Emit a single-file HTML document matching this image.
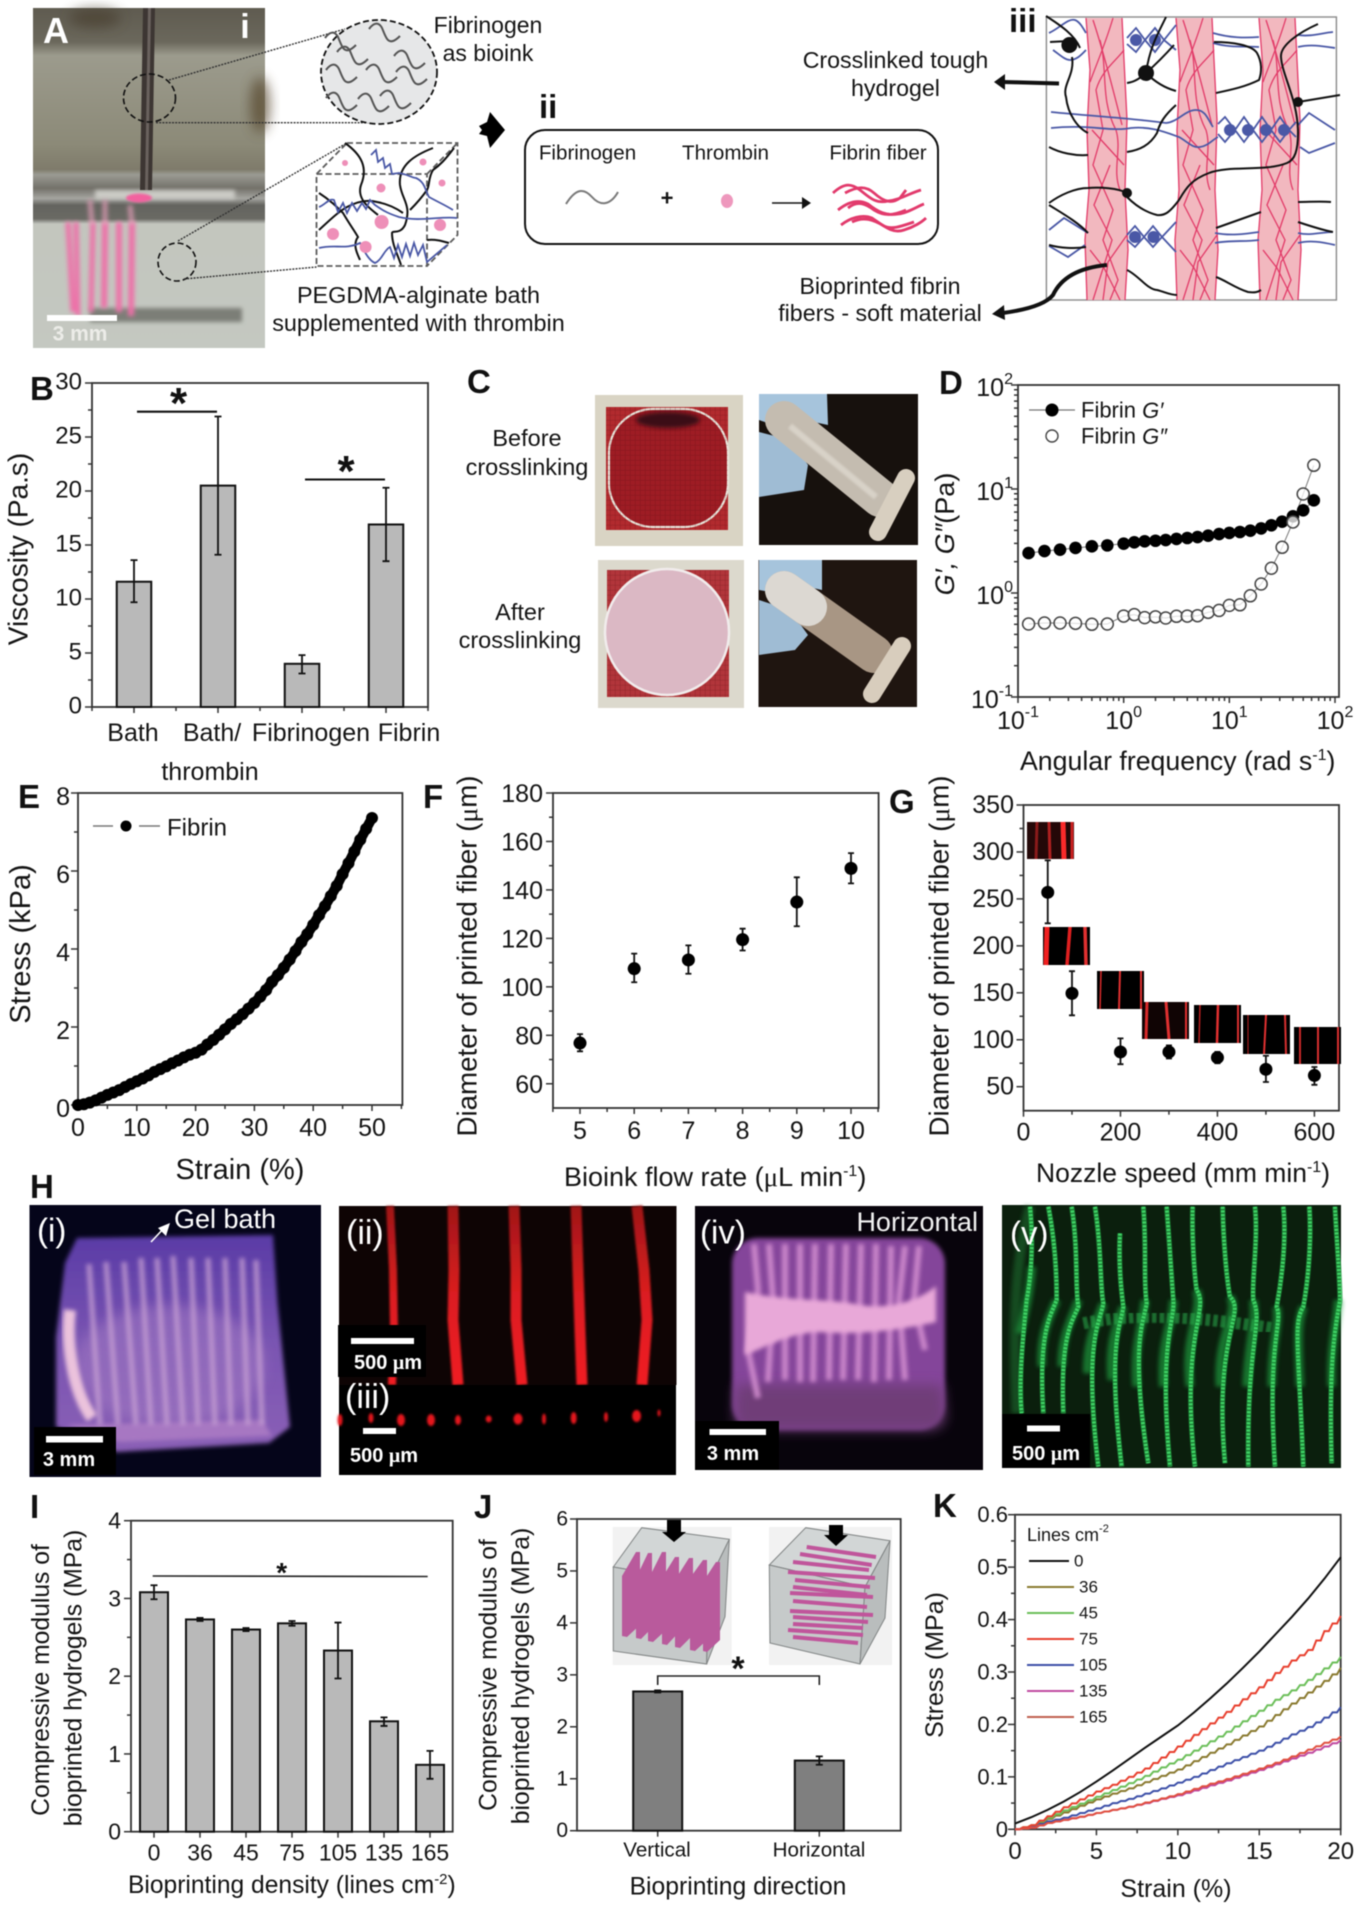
<!DOCTYPE html>
<html lang="en">
<head>
<meta charset="utf-8">
<title>Bioprinted fibrin fibers in tough hydrogel figure</title>
<style>
html,body{margin:0;padding:0;background:#fff;width:1362px;height:1915px;overflow:hidden}
svg{display:block;filter:blur(0.5px)}
text{font-family:"Liberation Sans",sans-serif;fill:#141414}
.panel{font-weight:700;font-size:33px;fill:#111}
.c{text-anchor:middle;dominant-baseline:central}
.frame{fill:none;stroke:#333;stroke-width:1.8}
.tick{stroke:#333;stroke-width:1.5}
.mu{font-family:"Liberation Serif",serif}
.dot{fill:none;stroke:#333;stroke-width:1.4;stroke-dasharray:2 1.2}
.blk{fill:none;stroke:#111;stroke-width:2}
.blu{fill:none;stroke:#4a58a6;stroke-width:1.8}
.fib{fill:none;stroke:#e23a68;stroke-width:1.3}
</style>
</head>
<body>
<svg id="fig" width="1362" height="1915" viewBox="0 0 1362 1915">
<defs>
<filter id="b1" x="-20%" y="-20%" width="140%" height="140%"><feGaussianBlur stdDeviation="1"/></filter>
<filter id="b2" x="-30%" y="-30%" width="160%" height="160%"><feGaussianBlur stdDeviation="2.2"/></filter>
<filter id="b5" x="-50%" y="-50%" width="200%" height="200%"><feGaussianBlur stdDeviation="6"/></filter>
<linearGradient id="gA" x1="0" y1="0" x2="0" y2="1">
<stop offset="0" stop-color="#5f5b50"/><stop offset=".1" stop-color="#6b685c"/><stop offset=".14" stop-color="#9c9b8d"/>
<stop offset=".4" stop-color="#8c8a78"/><stop offset=".475" stop-color="#7f7b6b"/><stop offset=".49" stop-color="#9b9b93"/>
<stop offset=".53" stop-color="#73716a"/><stop offset=".56" stop-color="#a5a5a0"/><stop offset=".58" stop-color="#64645f"/>
<stop offset=".62" stop-color="#6a6a64"/><stop offset=".635" stop-color="#c3c6be"/><stop offset="1" stop-color="#c4c8c1"/>
</linearGradient>
<linearGradient id="gHi" x1="0" y1="0" x2="0" y2="1"><stop offset="0" stop-color="#5a3ba6"/><stop offset=".5" stop-color="#7a55b2"/><stop offset="1" stop-color="#8a5fb6"/></linearGradient>
<linearGradient id="gRed" x1="0" y1="0" x2="0" y2="1"><stop offset="0" stop-color="#a01818"/><stop offset=".5" stop-color="#dc1c20"/><stop offset="1" stop-color="#f01f24"/></linearGradient>
<pattern id="grid" width="5" height="5" patternUnits="userSpaceOnUse"><path d="M0,0H5M0,0V5" stroke="#5a0c12" stroke-width=".8" opacity=".45"/></pattern>
<path id="wave" d="M0,4 C5,-3 10,-3 13,3 C16,10 18,18 24,16 C27,15 29,13 31,11" fill="none" stroke="#555" stroke-width="2"/>
<g id="band">
<path d="M1086,18 L1090,70 L1087,130 L1089,190 L1085,240 L1087,300 L1125,300 L1128,250 L1125,190 L1127,120 L1124,60 L1122,18 Z" fill="#f2b8bf"/>
<path class="fib" d="M1086,18 L1090,70 L1087,130 L1089,190 L1085,240 L1087,300"/>
<path class="fib" d="M1122,18 L1124,60 L1127,120 L1125,190 L1128,250 L1125,300"/>
<path class="fib" d="M1093,20 C1103,50 1112,85 1122,125"/>
<path class="fib" d="M1113,18 C1105,45 1098,60 1090,82"/>
<path class="fib" d="M1100,40 C1108,70 1100,100 1116,130 C1122,150 1112,170 1120,190"/>
<path class="fib" d="M1124,50 C1115,62 1102,70 1096,90 L1103,130 L1093,165 L1113,210 L1103,240 L1118,280 L1110,300"/>
<path class="fib" d="M1110,165 L1094,205 L1112,240 L1093,300"/>
<path class="fib" d="M1092,130 L1124,165"/>
<path class="fib" d="M1090,250 L1104,268 L1120,300"/>
<path class="fib" d="M1127,235 L1108,262 L1103,300"/>
</g>
<g id="strands" fill="none">
<path d="M90,20 C100,120 95,220 80,300 C70,400 55,540 65,640"/><path d="M145,20 C170,150 170,260 170,300 C150,350 115,400 130,640"/>
<path d="M215,20 C235,150 225,260 235,320 C220,360 180,400 190,640"/><path d="M285,20 C305,150 300,260 310,310 C300,370 250,420 295,800"/>
<path d="M360,100 C355,200 365,280 370,320 C365,370 320,420 365,800"/><path d="M430,20 C440,150 430,240 440,310 C430,370 390,430 445,790"/>
<path d="M500,20 C510,150 515,240 520,300 C525,370 475,420 510,800"/><path d="M578,20 C575,120 585,240 590,270 C630,330 540,400 585,800"/>
<path d="M668,20 C670,120 680,240 690,290 C740,340 640,400 675,790"/><path d="M765,20 C775,120 755,240 760,300 C790,370 740,420 745,800"/>
<path d="M850,20 C860,120 845,240 830,320 C850,370 800,420 825,800"/><path d="M928,20 C935,120 925,240 910,320 C880,370 895,430 910,800"/>
<path d="M1005,20 C1010,120 1020,240 1020,300 C1010,370 985,450 995,790"/>
</g>
</defs>
<rect x="0" y="0" width="1362" height="1915" fill="#fff"/>

<!-- PANEL A -->
<g>
<g>
<rect x="33" y="8" width="232" height="340" fill="url(#gA)"/>
<ellipse cx="95" cy="18" rx="26" ry="10" fill="#453a2c" filter="url(#b5)" opacity=".6"/>
<ellipse cx="260" cy="105" rx="10" ry="28" fill="#54442c" filter="url(#b5)" opacity=".7"/>
<rect x="95" y="190" width="140" height="9" fill="#d6d6d0" filter="url(#b2)" opacity=".85"/>
<rect x="90" y="308" width="152" height="14" fill="#7c7e77" filter="url(#b2)"/>
<path d="M143,8 H155 L152,190 H140 Z" fill="#3d3633"/>
<path d="M148,8 H151 L148,190 H145 Z" fill="#6a625e"/>
<g stroke="#ee6fa8" fill="none" filter="url(#b2)">
<path d="M68,222 L73,312" stroke-width="5"/><path d="M76,222 L78,316" stroke-width="5"/><path d="M93,222 L91,312" stroke-width="5"/>
<path d="M105,222 L104,308" stroke-width="6"/><path d="M119,222 L119,312" stroke-width="6"/><path d="M132,222 L131,316" stroke-width="6"/>
</g>
<path d="M90,200 L92,225 M105,200 L105,225 M130,205 L132,225" stroke="#e8a0bc" stroke-width="5" filter="url(#b2)" opacity=".7"/>
<ellipse cx="139" cy="198" rx="13" ry="4.5" fill="#f2629f" filter="url(#b1)"/>
<rect x="47" y="315" width="70" height="6" fill="#fff"/>
<text x="80" y="334" class="c" font-size="21" font-weight="700" style="fill:#ecece8">3 mm</text>
</g>
<text x="43" y="43" font-size="36" font-weight="700" style="fill:#fff">A</text>
<text x="245" y="38" text-anchor="middle" font-size="34" font-weight="700" style="fill:#fff">i</text>
<ellipse cx="149.5" cy="98" rx="26" ry="24" fill="none" stroke="#111" stroke-width="1.6" stroke-dasharray="6 3"/>
<ellipse cx="177" cy="262" rx="19" ry="19" fill="none" stroke="#111" stroke-width="1.6" stroke-dasharray="6 3"/>
<g>
<line class="dot" x1="169" y1="80" x2="345" y2="29"/><line class="dot" x1="156" y1="122.7" x2="373" y2="122.7"/>
<line class="dot" x1="178" y1="241" x2="347" y2="143"/><line class="dot" x1="184" y1="279" x2="316.5" y2="267"/>
</g>
<g>
<ellipse cx="379" cy="72" rx="58" ry="52" fill="#e6e7e8" stroke="#111" stroke-width="1.8" stroke-dasharray="6 3"/>
<use href="#wave" x="325" y="34"/><use href="#wave" x="369" y="25"/><use href="#wave" x="337" y="48"/><use href="#wave" x="394" y="52"/>
<use href="#wave" x="326" y="66"/><use href="#wave" x="366" y="66"/><use href="#wave" x="396" y="68"/><use href="#wave" x="326" y="94"/>
<use href="#wave" x="358" y="95"/><use href="#wave" x="380" y="92"/>
</g>
<text x="488" y="25" class="c" font-size="23">Fibrinogen</text>
<text x="488" y="53" class="c" font-size="23">as bioink</text>
<g>
<g fill="none" stroke="#5c5c5c" stroke-width="1.8" stroke-dasharray="6 3">
<rect x="316.5" y="174" width="110.5" height="92"/>
<path d="M347,143 H457.5 V235 L427,266"/><path d="M316.5,174 L347,143"/><path d="M427,174 L457.5,143"/>
</g>
<g class="cube-black">
<path class="blk" d="M345,143 C362,155 368,168 361,185 C356,200 372,210 378,215"/>
<path class="blk" d="M433,148 C415,155 398,165 400,185 C402,200 412,205 405,225 C400,235 392,230 392,233 C392,245 398,255 401,265"/>
<path class="blk" d="M454,148 C445,160 440,165 433,170 C428,178 430,185 427,190 C420,200 415,205 410,210"/>
<path class="blk" d="M319,193 C330,200 337,207 343,213 C350,225 354,230 358,237 C352,245 358,255 360,260"/>
<path class="blk" d="M319,230 C330,220 338,212 347,207 C360,200 370,200 377,202 C388,204 396,208 403,213"/>
<path class="blk" d="M427,240 C435,239 442,241 449,243"/>
</g>
<g>
<path class="blu" d="M371,155 L376,150 L378,162 L383,158 L385,168 L390,164 L392,174 L399,173 C410,175 412,178 416,178 C425,182 425,190 429,197 C438,202 445,205 453,210"/>
<path class="blu" d="M319,207 C325,205 329,198 334,200 L338,212 L343,203 L347,213 L352,203 L357,211 L362,203 L366,209 L370,200 L375,205 C385,212 390,214 399,217 C420,222 440,216 457,218"/>
<path class="blu" d="M319,248 C335,244 345,250 360,243 C364,250 368,260 375,263 C382,260 384,250 390,247 L394,258 L398,245 L402,257 L406,244 L410,256 L414,243 L418,255 L423,245 L427,262 L447,245"/>
</g>
<g fill="#ee8fb8">
<circle cx="345" cy="163" r="3"/><circle cx="423" cy="162" r="3.5"/><circle cx="442" cy="183" r="3.5"/><circle cx="381" cy="188" r="4.5"/>
<circle cx="381.6" cy="222" r="7"/><circle cx="440" cy="225" r="6"/><circle cx="333" cy="234" r="6"/><circle cx="365.6" cy="247" r="6"/>
</g>
</g>
<text x="418.5" y="295" class="c" font-size="23.4">PEGDMA-alginate bath</text>
<text x="418.5" y="323" class="c" font-size="23.4">supplemented with thrombin</text>
<path d="M490,112 L505,130 L490,148 L487,136 L479,134 L482,130 L479,126 L487,122 Z" fill="#000"/>
<text x="539" y="118" font-size="33" font-weight="700" style="fill:#111">ii</text>
<g>
<rect x="525" y="130" width="413" height="114" rx="20" fill="#fff" stroke="#111" stroke-width="2"/>
<text x="587.5" y="153" class="c" font-size="20.6">Fibrinogen</text>
<text x="725.5" y="153" class="c" font-size="20.6">Thrombin</text>
<text x="878" y="153" class="c" font-size="20.6">Fibrin fiber</text>
<path d="M566,204 C576,188 584,188 592,197 C600,206 610,206 618,192" fill="none" stroke="#7a7a7a" stroke-width="2"/>
<text x="667" y="198" class="c" font-size="22" font-weight="700">+</text>
<ellipse cx="727" cy="201" rx="6" ry="7" fill="#ee98bd"/>
<line x1="772" y1="203" x2="803" y2="203" stroke="#111" stroke-width="1.6"/>
<path d="M802,197 L811,203 L802,209 Z" fill="#111"/>
<g fill="none" stroke="#e23a6c" stroke-width="2.8">
<path d="M833,193 C845,182 852,184 860,190 C870,198 876,204 888,201 C900,200 910,193 921,190"/>
<path d="M845,193 C858,186 866,186 874,193 C884,202 892,204 900,198 L906,190"/>
<path d="M838,210 C848,202 858,199 868,204 C878,212 886,216 898,214 C908,213 918,206 924,204"/>
<path d="M848,208 C858,200 866,204 874,210 C884,216 892,216 906,210"/>
<path d="M841,225 C850,218 862,214 872,218 C884,226 892,234 904,230 C914,227 922,222 926,218"/>
<path d="M852,222 C864,216 874,220 884,226 C892,230 902,226 914,222"/>
</g>
</g>
<text x="1009" y="32" font-size="33" font-weight="700" style="fill:#111">iii</text>
<text x="895.5" y="60" class="c" font-size="23.2">Crosslinked tough</text>
<text x="895.5" y="88" class="c" font-size="23.2">hydrogel</text>
<text x="880" y="286" class="c" font-size="23.2">Bioprinted fibrin</text>
<text x="880" y="313" class="c" font-size="23.2">fibers - soft material</text>
<g>
<rect x="1046.4" y="17" width="290" height="283" fill="#fff" stroke="#8a8a8a" stroke-width="1.4"/>
<use href="#band"/><use href="#band" x="90"/><use href="#band" x="173"/>
<g>
<path class="blu" d="M1051,112 C1090,116 1130,118 1166,123 C1178,122 1185,110 1196,110 C1206,110 1208,120 1213,127"/>
<path class="blu" d="M1051,128 C1090,124 1110,132 1131,128 C1150,126 1165,132 1179,137 C1188,142 1192,148 1200,147 C1208,146 1212,140 1218,137"/>
<path class="blu" d="M1218,124 L1225,117 L1235,130 L1244,117 L1253,130 L1262,117 L1271,130 L1280,117 L1289,130 L1296,122 M1218,134 L1225,142 L1235,130 L1244,142 L1253,130 L1262,142 L1271,130 L1280,142 L1289,130 L1296,137"/>
<path class="blu" d="M1298,125 L1309,113 L1335,130 M1300,147 L1309,153 L1335,143"/>
<path class="blu" d="M1049,33 C1060,28 1068,18 1075,20 C1080,22 1083,28 1086,33 M1053,50 C1060,55 1065,60 1070,60 C1077,60 1082,54 1086,50"/>
<path class="blu" d="M1127,38 L1136,28 L1145,40 L1155,28 L1164,40 L1176,25 M1127,44 L1136,52 L1145,40 L1155,52 L1164,40 L1176,50"/>
<path class="blu" d="M1213,33 C1230,38 1245,38 1259,37 M1213,43 C1230,48 1245,46 1259,47"/>
<path class="blu" d="M1298,35 C1310,37 1322,33 1333,32 M1298,47 C1310,44 1322,46 1335,48"/>
<path class="blu" d="M1127,235 L1135,226 L1144,237 L1153,226 L1162,237 L1176,222 M1127,240 L1135,247 L1144,237 L1153,247 L1162,237 L1176,252"/>
<path class="blu" d="M1049,230 L1064,218 L1088,233 M1049,246 L1068,257 L1085,245"/>
<path class="blu" d="M1215,233 C1230,236 1245,234 1259,232 M1215,243 C1230,240 1245,242 1259,240"/>
<path class="blu" d="M1298,233 C1310,236 1322,232 1333,232 M1298,243 C1310,240 1322,242 1335,245"/>
<g fill="#4a58a6">
<circle cx="1136" cy="40" r="6"/><circle cx="1155" cy="40" r="6"/><circle cx="1230" cy="130" r="6"/><circle cx="1248" cy="130" r="6"/>
<circle cx="1266" cy="130" r="6"/><circle cx="1284" cy="130" r="6"/><circle cx="1135" cy="237" r="6"/><circle cx="1153.5" cy="237" r="6"/>
</g>
</g>
<g>
<path class="blk" d="M1046,16 C1060,25 1075,35 1080,48 M1050,42 L1069,41"/>
<path class="blk" d="M1072,57 C1075,75 1062,85 1066,97 C1068,115 1078,128 1088,133"/>
<path class="blk" d="M1049,147 C1060,153 1075,156 1088,155"/>
<path class="blk" d="M1166,17 C1160,30 1150,45 1146,73 M1174,45 C1165,55 1155,65 1146,73 M1146,73 C1140,78 1135,82 1127,83 M1146,73 C1155,82 1165,88 1176,91"/>
<path class="blk" d="M1176,105 C1165,115 1160,122 1157,133 C1150,145 1140,150 1127,152"/>
<path class="blk" d="M1214,42 C1232,42 1252,45 1257,53 C1262,62 1262,72 1259,80 C1245,87 1230,90 1216,93"/>
<path class="blk" d="M1318,24 C1300,32 1280,45 1281,57 C1282,75 1298,100 1298,133 C1298,150 1295,160 1287,163 C1265,172 1230,165 1209,173 C1190,180 1185,190 1179,200 C1170,212 1165,216 1157,215 C1145,212 1135,205 1127,197"/>
<path class="blk" d="M1298,102 L1340,95"/>
<path class="blk" d="M1049,203 C1060,195 1075,188 1088,188 C1100,187 1118,188 1127,193"/>
<path class="blk" d="M1049,205 C1060,212 1078,222 1088,233"/>
<path class="blk" d="M1049,245 C1060,248 1075,249 1086,247"/>
<path class="blk" d="M1127,270 C1138,275 1148,290 1157,290 C1165,292 1170,295 1177,295"/>
<path class="blk" d="M1216,228 L1261,212 M1216,277 C1225,280 1235,288 1248,292 C1255,293 1258,292 1261,290"/>
<path class="blk" d="M1298,202 C1310,202 1320,201 1331,202 M1298,222 C1310,226 1322,230 1333,232"/>
<circle cx="1069.4" cy="45" r="8" fill="#111"/><circle cx="1146" cy="73" r="8" fill="#111"/>
<circle cx="1127" cy="193" r="5" fill="#111"/><circle cx="1298" cy="102" r="5" fill="#111"/>
</g>
</g>
<g>
<line x1="1059" y1="83.5" x2="1003" y2="82" stroke="#111" stroke-width="4"/>
<path d="M1005,74 L994,82 L1005,90 Z" fill="#111"/>
</g>
<g>
<path d="M1107,265 C1075,268 1060,280 1053,295 C1045,305 1025,310 1003,313" fill="none" stroke="#111" stroke-width="4"/>
<path d="M1004,305 L992,314 L1005,320 Z" fill="#111"/>
</g>
</g>

<!-- PANEL B -->
<text x="30" y="400" class="panel">B</text>
<g id="chart-b"></g>
<g>
<line x1="137" y1="411.7" x2="217" y2="411.7" stroke="#111" stroke-width="2.2"/>
<text x="178.5" y="418" text-anchor="middle" font-size="44" font-weight="700" style="fill:#111">*</text>
<line x1="305" y1="479.5" x2="385" y2="479.5" stroke="#111" stroke-width="2"/>
<text x="346" y="486" text-anchor="middle" font-size="44" font-weight="700" style="fill:#111">*</text>
</g>
<g font-size="25">
<text x="133" y="733" class="c">Bath</text>
<text x="212" y="733" class="c">Bath/</text>
<text x="210" y="772" class="c">thrombin</text>
<text x="311" y="733" class="c">Fibrinogen</text>
<text x="409" y="733" class="c">Fibrin</text>
</g>
<text transform="translate(18 549) rotate(-90)" class="c" font-size="28">Viscosity (Pa.s)</text>

<!-- PANEL C -->
<text x="467" y="393" class="panel">C</text>
<text x="527" y="438" class="c" font-size="23.5">Before</text>
<text x="527" y="467" class="c" font-size="23.5">crosslinking</text>
<text x="520" y="612" class="c" font-size="23.5">After</text>
<text x="520" y="640" class="c" font-size="23.5">crosslinking</text>
<g>
<rect x="595" y="395" width="148" height="151" fill="#d9d4c4"/>
<rect x="606" y="407" width="122" height="123" fill="#b22a2e"/>
<rect x="609" y="409" width="119" height="118" rx="44" fill="#9e1c24" stroke="#e8e4da" stroke-width="2.2"/>
<rect x="606" y="407" width="122" height="123" fill="url(#grid)"/>
<ellipse cx="668" cy="420" rx="32" ry="8" fill="#3b0d14" filter="url(#b2)"/>
</g>
<g>
<rect x="598" y="560" width="146" height="148" fill="#dcd9cd"/>
<rect x="607" y="570" width="122" height="127" fill="#b2353a"/>
<rect x="607" y="570" width="122" height="127" fill="url(#grid)"/>
<ellipse cx="667" cy="632" rx="62" ry="63" fill="#dbb8c4" stroke="#f1ecec" stroke-width="2.5"/>
</g>
<g>
<rect x="759" y="394" width="159" height="151" fill="#17110d"/>
<path d="M759,394 H827 L828,425 L795,418 L773,425 L759,420 Z" fill="#a6c4dc"/>
<path d="M759,432 L790,440 L808,465 L804,490 L759,497 Z" fill="#9fbcd4"/>
<line x1="784" y1="420" x2="880" y2="498" stroke="#c4bcb0" stroke-width="38" stroke-linecap="round"/>
<line x1="790" y1="426" x2="876" y2="497" stroke="#d8d2c8" stroke-width="6" filter="url(#b1)"/>
<line x1="906" y1="478" x2="878" y2="532" stroke="#d8cfc0" stroke-width="18" stroke-linecap="round"/>
</g>
<g>
<rect x="758.5" y="560" width="158.5" height="147" fill="#1f1510"/>
<path d="M759,560 H822 L822,590 L795,584 L770,592 L759,590 Z" fill="#a6c4dc"/>
<path d="M759,600 L790,610 L808,635 L795,650 L759,655 Z" fill="#9fbcd4"/>
<line x1="784" y1="590" x2="874" y2="654" stroke="#a89684" stroke-width="38" stroke-linecap="round"/>
<line x1="784" y1="590" x2="808" y2="607" stroke="#dcd8d2" stroke-width="38" stroke-linecap="round"/>
<line x1="902" y1="646" x2="872" y2="694" stroke="#d8cdbd" stroke-width="18" stroke-linecap="round"/>
</g>

<!-- PANEL D -->
<text x="939" y="394" class="panel">D</text>
<g id="chart-d"></g>
<g>
<line x1="1029" y1="410" x2="1075" y2="410" stroke="#777" stroke-width="1.2"/>
<circle cx="1052" cy="410" r="6.5" fill="#000"/>
<text x="1081" y="410" font-size="22" dominant-baseline="central">Fibrin <tspan font-style="italic">G′</tspan></text>
<circle cx="1052" cy="436" r="6" fill="#fff" stroke="#444" stroke-width="1.4"/>
<text x="1081" y="436" font-size="22" dominant-baseline="central">Fibrin <tspan font-style="italic">G″</tspan></text>
</g>
<text transform="translate(945 534) rotate(-90)" class="c" font-size="27"><tspan font-style="italic">G′, G″</tspan>(Pa)</text>
<text x="1020" y="770" font-size="26.7">Angular frequency (rad s<tspan dy="-10" font-size="16">-1</tspan><tspan dy="10">)</tspan></text>

<!-- PANEL E -->
<text x="18" y="808" class="panel">E</text>
<g id="chart-e"></g>
<g>
<line x1="93" y1="826" x2="113" y2="826" stroke="#777" stroke-width="1.6"/><line x1="139" y1="826" x2="160" y2="826" stroke="#777" stroke-width="1.6"/>
<circle cx="126" cy="826" r="5.5" fill="#000"/>
<text x="167" y="828" font-size="24" dominant-baseline="central">Fibrin</text>
</g>
<text transform="translate(21 944) rotate(-90)" class="c" font-size="29">Stress (kPa)</text>
<text x="240" y="1170" class="c" font-size="29">Strain (%)</text>

<!-- PANEL F -->
<text x="423" y="808" class="panel">F</text>
<g id="chart-f"></g>
<text transform="translate(467 956) rotate(-90)" class="c" font-size="27.7">Diameter of printed fiber (<tspan class="mu">μ</tspan>m)</text>
<text x="564" y="1186" font-size="27">Bioink flow rate (<tspan class="mu">μ</tspan>L min<tspan dy="-10" font-size="16">-1</tspan><tspan dy="10">)</tspan></text>

<!-- PANEL G -->
<text x="889" y="813" class="panel">G</text>
<g id="chart-g"></g>
<g>
<g><rect x="1027" y="822" width="47" height="37" fill="#240808"/><g stroke-width="3"><line x1="1037" y1="822" x2="1036" y2="859" stroke="#8a1a1a"/><line x1="1049" y1="822" x2="1050" y2="859" stroke="#b02020"/><line x1="1063" y1="822" x2="1064" y2="859" stroke="#fa2a2a" stroke-width="5"/><line x1="1072" y1="822" x2="1072" y2="859" stroke="#c82020"/></g></g>
<g><rect x="1043" y="927" width="47" height="38" fill="#000"/><line x1="1047" y1="927" x2="1046" y2="965" stroke="#f02020" stroke-width="5"/><line x1="1070" y1="927" x2="1067" y2="965" stroke="#e02020" stroke-width="3.5"/><line x1="1085" y1="927" x2="1086" y2="965" stroke="#e03030" stroke-width="3.5"/></g>
<g><rect x="1097" y="971" width="47" height="38" fill="#000"/><line x1="1101" y1="971" x2="1100" y2="1009" stroke="#d82a2a" stroke-width="1.5"/><line x1="1120" y1="971" x2="1119" y2="1009" stroke="#e03030" stroke-width="2"/><line x1="1141" y1="971" x2="1141" y2="1009" stroke="#e03030" stroke-width="2"/></g>
<g><rect x="1142" y="1002" width="47" height="37" fill="#100404"/><line x1="1147" y1="1002" x2="1146" y2="1039" stroke="#d82a2a" stroke-width="3"/><line x1="1166" y1="1002" x2="1169" y2="1039" stroke="#e03030" stroke-width="3"/><line x1="1186" y1="1002" x2="1186" y2="1039" stroke="#e03030" stroke-width="2"/></g>
<g><rect x="1194" y="1005" width="47" height="38" fill="#000"/><line x1="1200" y1="1005" x2="1199" y2="1043" stroke="#b82020" stroke-width="1.5"/><line x1="1218" y1="1005" x2="1217" y2="1043" stroke="#e03030" stroke-width="2.5"/><line x1="1238" y1="1005" x2="1238" y2="1043" stroke="#d83030" stroke-width="2"/></g>
<g><rect x="1243" y="1015" width="47" height="39" fill="#000"/><line x1="1248" y1="1015" x2="1248" y2="1054" stroke="#b82020" stroke-width="1"/><line x1="1266" y1="1015" x2="1264" y2="1054" stroke="#e03030" stroke-width="2"/><line x1="1285" y1="1015" x2="1286" y2="1054" stroke="#d83030" stroke-width="2"/></g>
<g><rect x="1294" y="1027" width="47" height="37" fill="#000"/><line x1="1300" y1="1027" x2="1300" y2="1064" stroke="#c82828" stroke-width="2"/><line x1="1318" y1="1027" x2="1318" y2="1064" stroke="#d83030" stroke-width="2"/><line x1="1338" y1="1027" x2="1338" y2="1064" stroke="#d83030" stroke-width="2"/></g>
</g>
<text transform="translate(939 956) rotate(-90)" class="c" font-size="27.7">Diameter of printed fiber (<tspan class="mu">μ</tspan>m)</text>
<text x="1036" y="1182" font-size="26.5">Nozzle speed (mm min<tspan dy="-10" font-size="16">-1</tspan><tspan dy="10">)</tspan></text>

<!-- PANEL H -->
<text x="30" y="1198" class="panel">H</text>
<g>
<rect x="29.5" y="1205" width="291.5" height="272" fill="#05051a"/>
<path d="M77,1238 L273,1235 L277.5,1303 L290,1427 L269,1443 L117,1452 L56,1427 L56,1337 L65,1263 Z" fill="url(#gHi)" filter="url(#b2)"/>
<ellipse cx="170" cy="1365" rx="95" ry="60" fill="#a47cc4" filter="url(#b5)" opacity=".5"/>
<path d="M66,1425 L262,1420 L272,1436 L120,1442 Z" fill="#b583c8" filter="url(#b2)" opacity=".7"/>
<g fill="none" stroke="#c7a0d4" stroke-width="5.5" filter="url(#b2)" opacity=".75">
<path d="M89,1264 L100,1425"/><path d="M106,1262 L118,1425"/><path d="M124,1262 L136,1425"/><path d="M141,1258 L151,1425"/>
<path d="M157,1258 L167,1425"/><path d="M173,1256 L183,1425"/><path d="M191,1258 L198,1425"/><path d="M208,1258 L215,1425"/>
<path d="M225,1258 L231,1425"/><path d="M242,1258 L248,1425"/><path d="M256,1260 L262,1425"/>
</g>
<path d="M70,1310 C66,1340 72,1390 92,1418" fill="none" stroke="#ebc2dc" stroke-width="12" filter="url(#b2)"/>
<rect x="34" y="1427" width="82" height="48" fill="#000"/>
<rect x="46" y="1436" width="57" height="6.5" fill="#fff"/>
<text x="69" y="1460" class="c" font-size="20" font-weight="700" style="fill:#fff">3 mm</text>
<text x="37" y="1230" font-size="33" dominant-baseline="central" style="fill:#fff">(i)</text>
<text x="174" y="1219" font-size="27" dominant-baseline="central" style="fill:#fff">Gel bath</text>
<line x1="151" y1="1242" x2="165" y2="1227" stroke="#fff" stroke-width="1.6"/>
<path d="M170,1223 L158,1228 L166,1236 Z" fill="#fff"/>
</g>
<g>
<rect x="339" y="1206" width="337.5" height="179" fill="#0e0404"/>
<g fill="none" stroke="url(#gRed)" stroke-width="11" filter="url(#b1)">
<path d="M390,1206 L393,1270 L394,1330 L392,1385" stroke-width="8"/>
<path d="M453,1206 L454,1270 L453,1320 L458,1385"/>
<path d="M514,1206 L516,1270 L516,1320 L522,1385"/>
<path d="M576,1206 L578,1270 L580,1330 L582,1385"/>
<path d="M637,1206 L644,1270 L647,1320 L642,1385"/>
</g>
<rect x="338" y="1325" width="88" height="52" fill="#000"/>
<rect x="351" y="1338" width="63" height="6" fill="#fff"/>
<text x="388" y="1363" class="c" font-size="20" font-weight="700" style="fill:#fff">500 <tspan class="mu">μ</tspan>m</text>
<text x="346" y="1233" font-size="34" dominant-baseline="central" style="fill:#fff">(ii)</text>
</g>
<g>
<rect x="339" y="1385" width="337" height="90" fill="#000"/>
<g fill="#e5151c" filter="url(#b1)">
<ellipse cx="340" cy="1420" rx="2.5" ry="6"/><ellipse cx="371" cy="1418" rx="2.5" ry="5"/><ellipse cx="401" cy="1420" rx="4" ry="6"/><ellipse cx="431" cy="1420" rx="4" ry="6"/>
<ellipse cx="458" cy="1420" rx="3" ry="5"/><ellipse cx="488.7" cy="1419" rx="3" ry="3.5"/><ellipse cx="518" cy="1419" rx="4.5" ry="5.5"/><ellipse cx="544" cy="1419" rx="2" ry="5.5"/>
<ellipse cx="573.7" cy="1418" rx="3" ry="6"/><ellipse cx="606" cy="1417" rx="2" ry="5"/><ellipse cx="636.6" cy="1416" rx="4.5" ry="6"/><ellipse cx="659" cy="1413" rx="1.5" ry="3.5"/>
</g>
<rect x="363" y="1428" width="33" height="6" fill="#fff"/>
<text x="384" y="1456" class="c" font-size="20" font-weight="700" style="fill:#fff">500 <tspan class="mu">μ</tspan>m</text>
<text x="345" y="1397" font-size="34" dominant-baseline="central" style="fill:#fff">(iii)</text>
</g>
<g>
<rect x="695" y="1206" width="288" height="264" fill="#08040c"/>
<rect x="732" y="1238" width="213" height="192" rx="26" fill="#84449a" filter="url(#b2)"/>
<path d="M736,1385 H942 L945,1415 Q945,1430 925,1430 H752 Q735,1430 735,1415 Z" fill="#6f3d78" filter="url(#b5)"/>
<g fill="none" stroke="#d48fd0" stroke-width="6" filter="url(#b2)" opacity=".9">
<path d="M754,1244 L758,1290 L748,1350 L758,1398"/><path d="M769,1244 L773,1300 L768,1382"/><path d="M785,1244 L785,1380"/><path d="M800,1244 L800,1382"/>
<path d="M815,1244 L813,1382"/><path d="M831,1244 L829,1380"/><path d="M846,1244 L843,1380"/><path d="M861,1244 L858,1380"/>
<path d="M876,1244 L874,1382"/><path d="M891,1246 L889,1380"/><path d="M905,1246 L899,1300 L905,1380"/><path d="M919,1246 L914,1300 L925,1350"/>
</g>
<path d="M745,1292 C790,1302 830,1298 860,1305 C890,1310 920,1300 936,1286 L936,1322 C900,1330 860,1335 820,1332 C790,1332 760,1350 745,1355 Z" fill="#e8a8d8" filter="url(#b2)"/>
<rect x="695" y="1421" width="84" height="49" fill="#000"/>
<rect x="709.5" y="1429" width="56.5" height="6" fill="#fff"/>
<text x="733" y="1454" class="c" font-size="20" font-weight="700" style="fill:#fff">3 mm</text>
<text x="700" y="1232" font-size="33" dominant-baseline="central" style="fill:#fff">(iv)</text>
<text x="978" y="1222" font-size="27" text-anchor="end" dominant-baseline="central" style="fill:#f2f2f2">Horizontal</text>
</g>
<g>
<rect x="1002" y="1205" width="339" height="263" fill="#0b1f0d"/>
<g transform="translate(1000 1200) scale(0.3333)">
<path d="M90,20 C40,200 40,400 50,640" fill="none" stroke="#1f6a2e" stroke-width="30" filter="url(#b5)" opacity=".6"/>
<g fill="none" stroke="#1f9a3e" stroke-width="26" opacity=".7" filter="url(#b5)">
<path d="M95,200 C90,260 85,300 60,400"/><path d="M170,300 C150,350 120,400 125,500"/><path d="M235,300 C220,350 185,400 185,500"/><path d="M310,310 C290,370 260,420 262,520"/>
<path d="M370,320 C355,370 325,420 335,540"/><path d="M435,300 C430,370 400,430 410,560"/><path d="M520,300 C520,370 480,420 490,560"/><path d="M590,270 C610,340 550,400 570,560"/>
<path d="M690,290 C720,340 650,400 660,560"/><path d="M760,300 C770,370 745,420 740,560"/><path d="M830,320 C840,370 815,420 815,560"/><path d="M910,320 C890,370 895,430 900,560"/><path d="M1015,300 C1010,370 990,450 995,560"/>
</g>
<path d="M250,370 C400,340 560,345 820,385" fill="none" stroke="#2cad4e" stroke-width="36" stroke-dasharray="14 9" opacity=".55" filter="url(#b2)"/>
<use href="#strands" stroke="#1f9a3e" stroke-width="16" opacity=".7"/>
<use href="#strands" stroke="#3fd265" stroke-width="11" stroke-dasharray="7 4"/>
</g>
<rect x="1002" y="1414" width="88" height="54" fill="#000"/>
<rect x="1027" y="1425.5" width="33" height="6" fill="#fff"/>
<text x="1046" y="1454" class="c" font-size="20" font-weight="700" style="fill:#fff">500 <tspan class="mu">μ</tspan>m</text>
<text x="1010" y="1233" font-size="33" dominant-baseline="central" style="fill:#fff">(v)</text>
</g>

<!-- PANEL I -->
<text x="30" y="1518" class="panel">I</text>
<g id="chart-i"></g>
<g>
<line x1="152.7" y1="1576" x2="427.7" y2="1576.5" stroke="#222" stroke-width="1.6"/>
<text x="281.7" y="1582" text-anchor="middle" font-size="28" font-weight="700" style="fill:#111">*</text>
</g>
<text transform="translate(41.7 1680) rotate(-90)" class="c" font-size="24.7">Compressive modulus of</text>
<text transform="translate(74 1678) rotate(-90)" class="c" font-size="24.7">bioprinted hydrogels (MPa)</text>
<text x="128" y="1893" font-size="24.6">Bioprinting density (lines cm<tspan dy="-9" font-size="15">-2</tspan><tspan dy="9">)</tspan></text>

<!-- PANEL J -->
<text x="474" y="1518" class="panel">J</text>
<g id="chart-j"></g>
<g>
<rect x="612.7" y="1527" width="119" height="138" fill="#f2f2f2"/>
<path d="M613.3,1567 L641.7,1527.7 L729.3,1539.3 L708,1583 Z" fill="#d2d6d6" stroke="#808484"/>
<path d="M613.3,1567 L708,1583 L706.7,1664 L613.3,1651 Z" fill="#c6caca" stroke="#808484"/>
<path d="M708,1583 L729.3,1539.3 L725,1616.7 L706.7,1664 Z" fill="#b9bdbd" stroke="#808484"/>
<g fill="#b95a9c">
<path d="M622,1576 L636,1552 L640,1552 L640,1625 L627,1637 L622,1636 Z"/>
<path d="M636,1578 L648,1553 L652,1553 L652,1628 L641,1639 L636,1638 Z"/>
<path d="M648,1580 L662,1552 L666,1552 L666,1630 L653,1642 L648,1641 Z"/>
<path d="M662,1578 L675,1557 L679,1557 L679,1632 L667,1645 L662,1644 Z"/>
<path d="M675,1580 L689,1558 L693,1558 L693,1635 L680,1648 L675,1647 Z"/>
<path d="M690,1578 L703,1560 L707,1560 L707,1640 L695,1651 L690,1650 Z"/>
<path d="M703,1582 L716,1562 L720,1562 L720,1640 L707,1652 L703,1651 Z"/>
</g>
<path d="M667,1520 H681 V1532 H686 L674,1542 L662,1532 H667 Z" fill="#000"/>
</g>
<g>
<rect x="769" y="1527" width="123" height="138" fill="#f2f2f2"/>
<path d="M769.3,1565 L805.7,1527.7 L890,1540.7 L865,1587 Z" fill="#d2d6d6" stroke="#808484"/>
<path d="M769.3,1565 L865,1587 L860,1664 L770,1643 Z" fill="#c6caca" stroke="#808484"/>
<path d="M865,1587 L890,1540.7 L885,1618 L860,1664 Z" fill="#b9bdbd" stroke="#808484"/>
<g stroke="#c0559b" stroke-width="4">
<line x1="806.7" y1="1547" x2="876" y2="1557"/><line x1="800" y1="1554" x2="871.7" y2="1565"/><line x1="793" y1="1562" x2="869" y2="1570"/>
<line x1="788" y1="1572" x2="875" y2="1578"/><line x1="795" y1="1580" x2="870" y2="1587"/><line x1="793" y1="1587" x2="867" y2="1595"/>
<line x1="790" y1="1593" x2="873" y2="1597"/><line x1="793" y1="1601" x2="867" y2="1607"/><line x1="790" y1="1611" x2="873" y2="1615"/>
<line x1="793" y1="1617" x2="868" y2="1622"/><line x1="793" y1="1624" x2="863" y2="1628"/><line x1="788" y1="1630" x2="863" y2="1635"/><line x1="793" y1="1637" x2="858" y2="1643"/>
</g>
<path d="M829,1525 H843 V1535 H848 L836,1546 L824,1535 H829 Z" fill="#000"/>
</g>
<g>
<path d="M657.7,1685 V1676 H819.3 V1685" fill="none" stroke="#222" stroke-width="1.6"/>
<text x="738" y="1680" text-anchor="middle" font-size="34" font-weight="700" style="fill:#111">*</text>
</g>
<g font-size="20.6">
<text x="657" y="1850" class="c">Vertical</text>
<text x="819" y="1850" class="c">Horizontal</text>
</g>
<text transform="translate(489 1675) rotate(-90)" class="c" font-size="24.7">Compressive modulus of</text>
<text transform="translate(521.7 1676) rotate(-90)" class="c" font-size="24.7">bioprinted hydrogels (MPa)</text>
<text x="738" y="1887" class="c" font-size="24.7">Bioprinting direction</text>

<!-- PANEL K -->
<text x="933" y="1517" class="panel">K</text>
<g id="chart-k"></g>
<text x="1027" y="1535" font-size="18" dominant-baseline="central">Lines cm<tspan dy="-6" font-size="11">-2</tspan></text>
<text transform="translate(935 1665) rotate(-90)" class="c" font-size="25">Stress (MPa)</text>
<text x="1176" y="1889" class="c" font-size="25">Strain (%)</text>
</svg>

<script>
// Panel B data
const bCategories = ['Bath', 'Bath/thrombin', 'Fibrinogen', 'Fibrin'];
const bValues = [11.6, 20.5, 4.0, 16.9];
const bErrLow = [9.7, 14.1, 3.1, 13.5];
const bErrHigh = [13.6, 26.9, 4.8, 20.3];
const bYTicks = [0, 5, 10, 15, 20, 25, 30];
// Panel D data
const dFrequency = [0.126, 0.178, 0.25, 0.35, 0.5, 0.7, 1, 1.26, 1.58, 2, 2.5, 3.16, 4, 5, 6.3, 8, 10, 12.6, 15.8, 20, 25, 31.6, 40, 50, 63];
const dStorage = [2.42, 2.53, 2.61, 2.71, 2.81, 2.87, 2.98, 3.07, 3.14, 3.18, 3.23, 3.31, 3.38, 3.45, 3.56, 3.69, 3.78, 3.86, 3.97, 4.18, 4.48, 4.85, 5.46, 6.24, 7.78];
const dLoss = [0.503, 0.515, 0.515, 0.511, 0.5, 0.503, 0.6, 0.62, 0.58, 0.59, 0.575, 0.597, 0.6, 0.605, 0.652, 0.68, 0.76, 0.77, 0.94, 1.22, 1.73, 2.75, 4.82, 8.95, 16.9];
const dDecades = [0.1, 1, 10, 100];
const dDecadeSups = ['-1', '0', '1', '2'];
// Panel E data
const eStrain = [0, 1, 2, 3, 4, 5, 6, 7, 8, 9, 10, 11, 12, 13, 14, 15, 16, 17, 18, 19, 20, 21, 22, 23, 24, 25, 26, 27, 28, 29, 30, 31, 32, 33, 34, 35, 36, 37, 38, 39, 40, 41, 42, 43, 44, 45, 46, 47, 48, 49, 50];
const eStress = [0, 0.02, 0.06, 0.12, 0.19, 0.26, 0.32, 0.38, 0.46, 0.54, 0.61, 0.68, 0.76, 0.85, 0.92, 0.99, 1.07, 1.14, 1.22, 1.29, 1.34, 1.42, 1.55, 1.67, 1.8, 1.94, 2.08, 2.2, 2.33, 2.47, 2.62, 2.78, 2.95, 3.16, 3.33, 3.52, 3.73, 3.95, 4.18, 4.38, 4.62, 4.87, 5.1, 5.36, 5.62, 5.92, 6.2, 6.5, 6.8, 7.08, 7.36];
const eXTicks = [0, 10, 20, 30, 40, 50];
const eYTicks = [0, 2, 4, 6, 8];
// Panel F data
const fFlow = [5, 6, 7, 8, 9, 10];
const fDiameter = [76.8, 107.5, 111.1, 119.5, 135, 148.9];
const fErrLow = [73.4, 101.9, 105.4, 115, 125, 142.7];
const fErrHigh = [80.5, 113.7, 117.1, 124, 145.2, 155.2];
const fYTicks = [60, 80, 100, 120, 140, 160, 180];
// Panel G data
const gSpeed = [50, 100, 200, 300, 400, 500, 600];
const gDiameter = [257, 149.4, 87, 87, 81, 68.5, 62];
const gErrLow = [224, 126, 74, 80, 75, 55, 52];
const gErrHigh = [291, 173, 101.5, 94, 87, 83, 71];
const gXTicks = [0, 200, 400, 600];
const gYTicks = [50, 100, 150, 200, 250, 300, 350];
// Panel I data
const iCategories = ['0', '36', '45', '75', '105', '135', '165'];
const iValues = [3.08, 2.73, 2.6, 2.68, 2.33, 1.42, 0.86];
const iErrLow = [2.99, 2.71, 2.58, 2.65, 1.97, 1.36, 0.68];
const iErrHigh = [3.17, 2.75, 2.62, 2.71, 2.69, 1.47, 1.04];
const iYTicks = [0, 1, 2, 3, 4];
// Panel J data
const jCategories = ['Vertical', 'Horizontal'];
const jValues = [2.68, 1.35];
const jErrLow = [2.66, 1.27];
const jErrHigh = [2.7, 1.43];
const jYTicks = [0, 1, 2, 3, 4, 5, 6];
// Panel K data
const kStrain = [0, 1, 2, 3, 4, 5, 6, 7, 8, 9, 10, 11, 12, 13, 14, 15, 16, 17, 18, 19, 20];
const kLines0 = [0.011, 0.023, 0.037, 0.053, 0.071, 0.091, 0.112, 0.134, 0.156, 0.177, 0.198, 0.223, 0.25, 0.278, 0.308, 0.339, 0.372, 0.405, 0.44, 0.478, 0.519];
const kLines36 = [0, 0.007, 0.02, 0.032, 0.045, 0.057, 0.068, 0.078, 0.09, 0.102, 0.114, 0.13, 0.146, 0.162, 0.179, 0.196, 0.218, 0.24, 0.261, 0.283, 0.308];
const kLines45 = [0, 0.008, 0.022, 0.036, 0.049, 0.062, 0.075, 0.088, 0.102, 0.118, 0.133, 0.15, 0.168, 0.186, 0.206, 0.226, 0.247, 0.265, 0.285, 0.307, 0.329];
const kLines75 = [0, 0.008, 0.025, 0.042, 0.057, 0.072, 0.085, 0.1, 0.116, 0.137, 0.158, 0.18, 0.202, 0.224, 0.248, 0.271, 0.298, 0.322, 0.342, 0.378, 0.407];
const kLines105 = [0, 0.005, 0.015, 0.022, 0.031, 0.04, 0.05, 0.058, 0.068, 0.078, 0.089, 0.1, 0.113, 0.126, 0.138, 0.15, 0.165, 0.181, 0.195, 0.213, 0.233];
const kLines135 = [0, 0.003, 0.012, 0.018, 0.024, 0.031, 0.037, 0.043, 0.05, 0.058, 0.065, 0.074, 0.084, 0.093, 0.103, 0.113, 0.124, 0.135, 0.146, 0.158, 0.17];
const kLines165 = [0, 0.003, 0.012, 0.018, 0.024, 0.031, 0.037, 0.043, 0.051, 0.059, 0.067, 0.077, 0.087, 0.096, 0.106, 0.116, 0.127, 0.139, 0.152, 0.165, 0.177];
const kLegendNames = ['0', '36', '45', '75', '105', '135', '165'];
const kXTicks = [0, 5, 10, 15, 20];
const kYTicks = [0, 0.1, 0.2, 0.3, 0.4, 0.5, 0.6];

const svgNS = document.getElementById('fig').namespaceURI;

function add(parent, tag, attrs) {
  const node = document.createElementNS(svgNS, tag);
  for (const k in attrs) node.setAttribute(k, attrs[k]);
  parent.appendChild(node);
  return node;
}
function tagNode(node, name) {
  
  
  return node;
}
function lin(d0, d1, r0, r1) { return v => r0 + (v - d0) * (r1 - r0) / (d1 - d0); }
function logS(d0, d1, r0, r1) { return v => r0 + (Math.log10(v) - Math.log10(d0)) * (r1 - r0) / (Math.log10(d1) - Math.log10(d0)); }
function halves(list) {
  const out = [];
  for (let i = 0; i + 1 < list.length; i++) out.push((list[i] + list[i + 1]) / 2);
  return out;
}

function drawAxes(g, prefix, o) {
  const frame = add(g, 'rect', {x: o.box[0], y: o.box[1], width: o.box[2] - o.box[0], height: o.box[3] - o.box[1], class: 'frame'});
  tagNode(frame, prefix + '-plot-frame');
  const b = o.box[3], l = o.box[0];
  (o.xMinor || []).forEach(v => {
    const t = add(g, 'line', {x1: o.sx(v), x2: o.sx(v), y1: b, y2: b + 4, class: 'tick'});
    tagNode(t, prefix + '-x-minor-tick');
  });
  (o.yMinor || []).forEach(v => {
    const t = add(g, 'line', {x1: l, x2: l - 4, y1: o.sy(v), y2: o.sy(v), class: 'tick'});
    tagNode(t, prefix + '-y-minor-tick');
  });
  (o.xMajor || []).forEach((v, i) => {
    const t = add(g, 'line', {x1: o.sx(v), x2: o.sx(v), y1: b, y2: b + 6, class: 'tick'});
    tagNode(t, prefix + '-x-tick');
    if (!o.xLabels) return;
    const lab = add(g, 'text', {x: o.sx(v), y: b + o.xDy, 'font-size': o.xFs || o.fs, class: 'c'});
    lab.textContent = o.xLabels[i];
    tagNode(lab, prefix + '-x-tick-label');
    if (o.xSups) {
      const s = add(lab, 'tspan', {dy: -9, 'font-size': 16});
      s.textContent = o.xSups[i];
    }
  });
  (o.yMajor || []).forEach((v, i) => {
    const t = add(g, 'line', {x1: l, x2: l - 7, y1: o.sy(v), y2: o.sy(v), class: 'tick'});
    tagNode(t, prefix + '-y-tick');
    const lab = add(g, 'text', {x: o.yRight, y: o.sy(v) + (o.yDy || 0), 'font-size': o.fs, 'text-anchor': 'end', 'dominant-baseline': 'central'});
    lab.textContent = o.yLabels[i];
    tagNode(lab, prefix + '-y-tick-label');
    if (o.ySups) {
      const s = add(lab, 'tspan', {dy: -9, 'font-size': 16});
      s.textContent = o.ySups[i];
    }
  });
}

function drawError(g, name, x, yLow, yHigh, cap) {
  const err = add(g, 'path', {d: 'M' + (x - cap) + ',' + yHigh + 'H' + (x + cap) + 'M' + x + ',' + yHigh + 'V' + yLow + 'M' + (x - cap) + ',' + yLow + 'H' + (x + cap), fill: 'none', stroke: '#111', 'stroke-width': 1.8});
  tagNode(err, name);
}

function drawBars(g, prefix, cats, vals, lows, highs, sx, sy, w, fill, cap) {
  cats.forEach((c, i) => {
    const x = sx(i + 1);
    const bar = add(g, 'rect', {x: x - w / 2, y: sy(vals[i]), width: w, height: sy(0) - sy(vals[i]), fill: fill, stroke: '#111', 'stroke-width': 2});
    tagNode(bar, prefix + '-bar-' + c);
    drawError(g, prefix + '-error-' + c, x, sy(lows[i]), sy(highs[i]), cap);
  });
}

// Panel B
(function () {
  const g = document.getElementById('chart-b');
  const sx = lin(0.5, 4.5, 92, 428), sy = lin(0, 30, 707, 383);
  drawAxes(g, 'viscosity', {box: [92, 383, 428, 707], sx, sy, xMajor: [1, 2, 3, 4], xMinor: [1.5, 2.5, 3.5, 4.5, 0.5], yMajor: bYTicks, yMinor: halves(bYTicks), yLabels: bYTicks.map(String), fs: 24, yRight: 82, yDy: -1});
  drawBars(g, 'viscosity', bCategories, bValues, bErrLow, bErrHigh, sx, sy, 34.5, '#b9b9b9', 3.5);
})();

// Panel D
(function () {
  const g = document.getElementById('chart-d');
  const sx = logS(0.1, 100, 1018, 1335), sy = logS(0.1, 100, 697, 385);
  const minor = [];
  dDecades.slice(0, 3).forEach(d => { for (let m = 2; m < 10; m++) minor.push(d * m); });
  drawAxes(g, 'rheology', {box: [1018, 385, 1339, 697], sx, sy, xMajor: dDecades, xMinor: minor, xLabels: ['10', '10', '10', '10'], xSups: dDecadeSups, xDy: 24, yMajor: dDecades, yMinor: minor, yLabels: ['10', '10', '10', '10'], ySups: dDecadeSups, fs: 25, yRight: 1013, yDy: 3});
  const toPts = vals => dFrequency.map((f, i) => sx(f) + ',' + sy(vals[i])).join(' ');
  const lineS = add(g, 'polyline', {points: toPts(dStorage), fill: 'none', stroke: '#777', 'stroke-width': 1});
  tagNode(lineS, 'storage-modulus-line');
  const lineL = add(g, 'polyline', {points: toPts(dLoss), fill: 'none', stroke: '#777', 'stroke-width': 1});
  tagNode(lineL, 'loss-modulus-line');
  dFrequency.forEach((f, i) => {
    const p = add(g, 'circle', {cx: sx(f), cy: sy(dStorage[i]), r: 6.3, fill: '#000'});
    tagNode(p, 'storage-modulus-point');
  });
  dFrequency.forEach((f, i) => {
    const p = add(g, 'circle', {cx: sx(f), cy: sy(dLoss[i]), r: 6, fill: '#fff', 'fill-opacity': 0.75, stroke: '#444', 'stroke-width': 1.5});
    tagNode(p, 'loss-modulus-point');
  });
})();

// Panel E
(function () {
  const g = document.getElementById('chart-e');
  const sx = lin(0, 50, 78, 372), sy = lin(0, 8, 1105, 793);
  drawAxes(g, 'stress-strain', {box: [78, 793, 402.4, 1105], sx, sy, xMajor: eXTicks, xMinor: [5, 15, 25, 35, 45, 55], xLabels: eXTicks.map(String), xDy: 23, yMajor: eYTicks, yMinor: halves(eYTicks), yLabels: eYTicks.map(String), fs: 25, yRight: 70, yDy: 4});
  const line = add(g, 'polyline', {points: eStrain.map((s, i) => sx(s) + ',' + sy(eStress[i])).join(' '), fill: 'none', stroke: '#000', 'stroke-width': 10});
  tagNode(line, 'fibrin-stress-line');
  eStrain.forEach((s, i) => {
    const p = add(g, 'circle', {cx: sx(s), cy: sy(eStress[i]), r: 6, fill: '#000'});
    tagNode(p, 'fibrin-stress-point');
  });
})();

// Panel F
(function () {
  const g = document.getElementById('chart-f');
  const sx = lin(5, 10, 580, 851), sy = lin(50, 180, 1108, 793);
  drawAxes(g, 'flow', {box: [553, 793, 878.6, 1108], sx, sy, xMajor: fFlow, xMinor: [4.5, 5.5, 6.5, 7.5, 8.5, 9.5, 10.5], xLabels: fFlow.map(String), xDy: 23, yMajor: fYTicks, yMinor: [70, 90, 110, 130, 150, 170], yLabels: fYTicks.map(String), fs: 25, yRight: 543, yDy: 1});
  fFlow.forEach((f, i) => {
    drawError(g, 'flow-error-' + f, sx(f), sy(fErrLow[i]), sy(fErrHigh[i]), 3);
    const p = add(g, 'circle', {cx: sx(f), cy: sy(fDiameter[i]), r: 6.5, fill: '#000'});
    tagNode(p, 'flow-point-' + f);
  });
})();

// Panel G
(function () {
  const g = document.getElementById('chart-g');
  const sx = lin(0, 600, 1023.5, 1314.4), sy = lin(50, 350, 1086.7, 805);
  drawAxes(g, 'nozzle', {box: [1023.5, 805, 1339, 1110.7], sx, sy, xMajor: gXTicks, xMinor: [100, 300, 500], xLabels: gXTicks.map(String), xDy: 22, yMajor: gYTicks, yMinor: [75, 125, 175, 225, 275, 325], yLabels: gYTicks.map(String), fs: 25, yRight: 1014, yDy: 0});
  gSpeed.forEach((s, i) => {
    drawError(g, 'nozzle-error-' + s, sx(s), sy(gErrLow[i]), sy(gErrHigh[i]), 3);
    const p = add(g, 'circle', {cx: sx(s), cy: sy(gDiameter[i]), r: 6.5, fill: '#000'});
    tagNode(p, 'nozzle-point-' + s);
  });
})();

// Panel I
(function () {
  const g = document.getElementById('chart-i');
  const sx = lin(0.5, 7.5, 131, 453), sy = lin(0, 4, 1831.7, 1520.7);
  drawAxes(g, 'density', {box: [131, 1520.7, 452.7, 1831.7], sx, sy, xMajor: [1, 2, 3, 4, 5, 6, 7], xLabels: iCategories, xDy: 21, xFs: 23, yMajor: iYTicks, yMinor: halves(iYTicks), yLabels: iYTicks.map(String), fs: 23, yRight: 121, yDy: 0});
  drawBars(g, 'density', iCategories, iValues, iErrLow, iErrHigh, sx, sy, 28, '#b9b9b9', 3.5);
})();

// Panel J
(function () {
  const g = document.getElementById('chart-j');
  const sx = lin(1, 2, 657.7, 819.3), sy = lin(0, 6, 1830.7, 1519);
  drawAxes(g, 'direction', {box: [577, 1519, 900.7, 1830.7], sx, sy, xMajor: [1, 2], yMajor: jYTicks, yLabels: jYTicks.map(String), fs: 21, yRight: 568, yDy: 0});
  drawBars(g, 'direction', jCategories, jValues, jErrLow, jErrHigh, sx, sy, 49, '#7f7f7f', 3.5);
})();

// Panel K
(function () {
  const g = document.getElementById('chart-k');
  const sx = lin(0, 20, 1015, 1340.7), sy = lin(0, 0.6, 1829.3, 1514.7);
  drawAxes(g, 'compression', {box: [1015, 1514.7, 1340.7, 1829.3], sx, sy, xMajor: kXTicks, xMinor: [2.5, 7.5, 12.5, 17.5], xLabels: kXTicks.map(String), xDy: 22, xFs: 24, yMajor: kYTicks, yMinor: halves(kYTicks), yLabels: kYTicks.map(v => v === 0 ? '0' : v.toFixed(1)), fs: 22, yRight: 1008, yDy: 0});
  const series = [kLines36, kLines105, kLines45, kLines75, kLines135, kLines165, kLines0];
  const names = ['36', '105', '45', '75', '135', '165', '0'];
  const colors = ['#8a7a30', '#3d50a8', '#6cbf5a', '#e8402f', '#c04aa0', '#e05040', '#111111'];
  series.forEach((vals, si) => {
    let d = 'M' + sx(kStrain[0]) + ',' + sy(vals[0]);
    const stairs = names[si] === '0' ? 1 : 2;
    for (let i = 1; i < kStrain.length; i++) {
      const x0 = sx(kStrain[i - 1]), x1 = sx(kStrain[i]), y0 = sy(vals[i - 1]), y1 = sy(vals[i]);
      for (let k = 1; k <= stairs; k++) {
        const xk = x0 + (x1 - x0) * k / stairs, yk = y0 + (y1 - y0) * k / stairs;
        if (stairs > 1) {
          d += 'L' + (xk - (x1 - x0) / stairs * 0.45) + ',' + (yk - (y1 - y0) / stairs);
        }
        d += 'L' + xk + ',' + yk;
      }
    }
    const line = add(g, 'path', {d: d, fill: 'none', stroke: colors[si], 'stroke-width': 2});
    tagNode(line, 'curve-' + names[si] + '-lines');
  });
  const legendColors = ['#111111', '#8a7a30', '#6cbf5a', '#e8402f', '#3d50a8', '#c04aa0', '#c0604f'];
  const legendRows = [1561, 1587, 1613, 1639, 1665, 1691, 1717];
  kLegendNames.forEach((n, i) => {
    const sw = add(g, 'line', {x1: i === 0 ? 1029 : 1027, x2: i === 0 ? 1069 : 1074, y1: legendRows[i], y2: legendRows[i], stroke: legendColors[i], 'stroke-width': 2});
    tagNode(sw, 'legend-swatch-' + n);
    const t = add(g, 'text', {x: i === 0 ? 1074 : 1079, y: legendRows[i], 'font-size': 17, 'dominant-baseline': 'central'});
    t.textContent = n;
    tagNode(t, 'legend-label-' + n);
  });
})();
</script>
</body>
</html>
